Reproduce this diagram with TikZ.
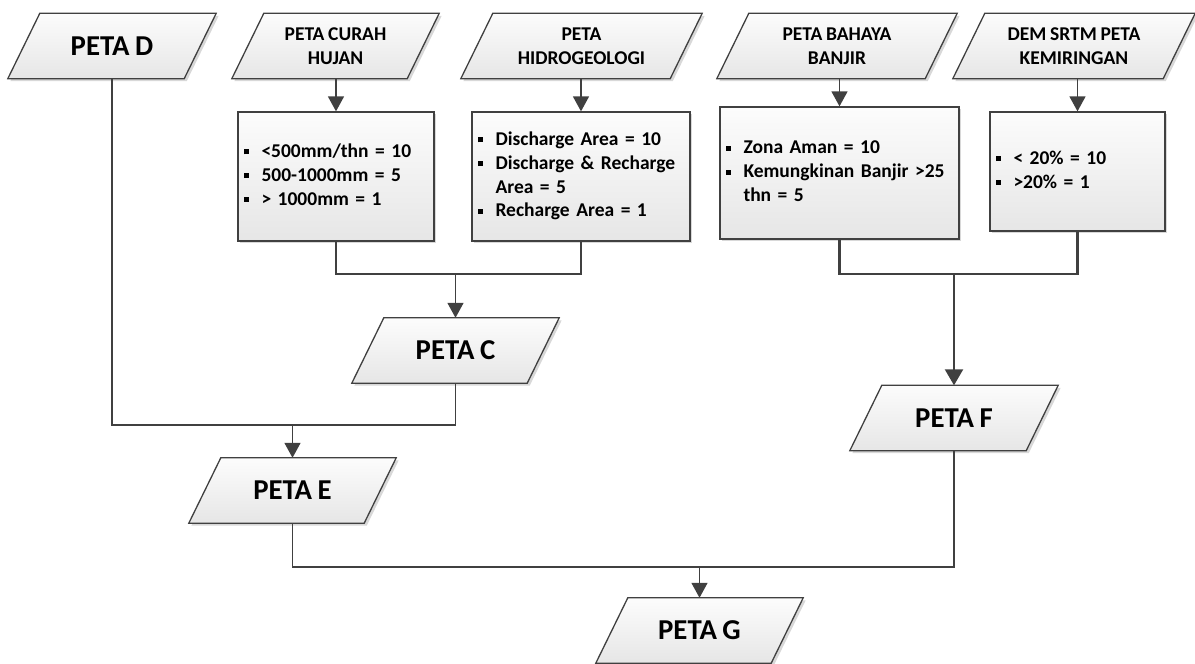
\documentclass[tikz,border=0pt]{standalone}
\usepackage{fontspec}
\setmainfont{Carlito}[WordSpace={0.85}]
\usetikzlibrary{arrows.meta,calc,shadows}
\pgfdeclarelayer{bg}
\pgfsetlayers{bg,main}
\definecolor{lc}{HTML}{404040}
\definecolor{ftop}{HTML}{FCFCFC}
\definecolor{fbot}{HTML}{E6E6E6}
\definecolor{shc}{HTML}{A8A8A8}
\newcommand\bul{\rule[3.2pt]{5pt}{5pt}}
\newcommand\smallf{\fontsize{19.5}{23.8}\selectfont\bfseries}
\newcommand\bigf{\fontsize{28.8}{34}\selectfont\bfseries}
\tikzset{
  pgtext/.style={inner sep=0pt, minimum height=65pt, align=center, font=\smallf, text=black},
  boxst/.style={draw=lc, line width=1.3pt, top color=ftop, bottom color=fbot, inner xsep=6pt, inner ysep=0pt,
    align=left, font=\smallf, text=black,
    drop shadow={shadow xshift=2pt, shadow yshift=-2pt, fill=shc, opacity=0.45}},
  conn/.style={draw=lc, line width=1.5pt, line join=miter},
  tconn/.style={draw=lc, line width=2.3pt, line join=miter},
  arr/.style={conn, -{Triangle[length=15pt,width=16pt]}},
  tarr/.style={tconn, -{Triangle[length=16pt,width=18pt]}},
}
\newcommand\pgm[5]{%
  \node[pgtext, minimum width=#4] (#1) at (#2,#3) {#5};
  \begin{pgfonlayer}{bg}
    \fill[shc, opacity=0.45] ([shift={(34.5,2.5)}]#1.north west) -- ([shift={(2.5,2.5)}]#1.north east)
       -- ([shift={(-29.5,2.5)}]#1.south east) -- ([shift={(2.5,2.5)}]#1.south west) -- cycle;
    \shadedraw[top color=ftop, bottom color=fbot, draw=lc, line width=1.3pt, line join=miter]
       ([xshift=32pt]#1.north west) -- (#1.north east) -- ([xshift=-32pt]#1.south east) -- (#1.south west) -- cycle;
  \end{pgfonlayer}}
\begin{document}
\begin{tikzpicture}[x=1pt, y=-1pt]
\useasboundingbox (0,0) rectangle (1195,664);

% top row
\pgm{D}{112}{46}{208}{\bigf PETA D}
\pgm{curah}{335.5}{46}{207}{PETA CURAH\\HUJAN}
\pgm{hidro}{581.5}{46}{241}{PETA\\HIDROGEOLOGI}
\pgm{bahaya}{837}{46}{240}{PETA BAHAYA\\BANJIR}
\pgm{dem}{1074}{46}{242}{DEM SRTM PETA\\KEMIRINGAN}

% boxes
\node[boxst, minimum height=129pt, text width=184pt] (box1) at (336,176.5)
  {\begin{tabular}{@{}l@{\hspace{12.5pt}}l@{}}
   \bul & <500mm/thn = 10\\
   \bul & 500-1000mm = 5\\
   \bul & > 1000mm = 1
   \end{tabular}};
\node[boxst, minimum height=129pt, text width=206pt] (box2) at (581,176.5)
  {\begin{tabular}{@{}l@{\hspace{12.5pt}}l@{}}
   \bul & Discharge Area = 10\\
   \bul & Discharge \& Recharge\\
        & Area = 5\\
   \bul & Recharge Area = 1
   \end{tabular}};
\node[boxst, minimum height=132pt, text width=227pt] (box3) at (839.5,173)
  {\begin{tabular}{@{}l@{\hspace{12.5pt}}l@{}}
   \bul & Zona Aman = 10\\
   \bul & Kemungkinan Banjir >25\\
        & thn = 5
   \end{tabular}};
\node[boxst, minimum height=119pt, text width=163pt] (box4) at (1077.5,171.5)
  {\begin{tabular}{@{}l@{\hspace{12.5pt}}l@{}}
   \bul & < 20\% = 10\\
   \bul & >20\% = 1
   \end{tabular}};

% middle / bottom parallelograms
\pgm{C}{455.5}{350.5}{207}{\bigf PETA C}
\pgm{E}{292.5}{490.5}{207}{\bigf PETA E}
\pgm{F}{954}{418}{208}{\bigf PETA F}
\pgm{G}{699.5}{630.5}{207}{\bigf PETA G}

% arrows from titles to boxes
\draw[arr] (curah.south -| box1.north) -- (box1.north);
\draw[arr] (hidro.south -| box2.north) -- (box2.north);
\draw[arr] (bahaya.south -| box3.north) -- (box3.north);
\draw[arr] (dem.south -| box4.north) -- (box4.north);

% junctions
\coordinate (jC) at (455.5,274);
\draw[conn] (box1.south) |- (jC) -| (box2.south);
\draw[arr] (jC) -- (C.north);

\coordinate (jE) at (292.5,425);
\draw[conn] (D.south) |- (jE) -| (C.south);
\draw[arr] (jE) -- (E.north);

\coordinate (jF) at (954,274);
\draw[tconn] (box3.south) |- (jF) -| (box4.south);
\draw[tarr] (jF) -- (F.north);

\coordinate (jG) at (699.5,567);
\draw[conn] (E.south) |- (jG) -| (F.south);
\draw[arr] (jG) -- (G.north);
\end{tikzpicture}
\end{document}
